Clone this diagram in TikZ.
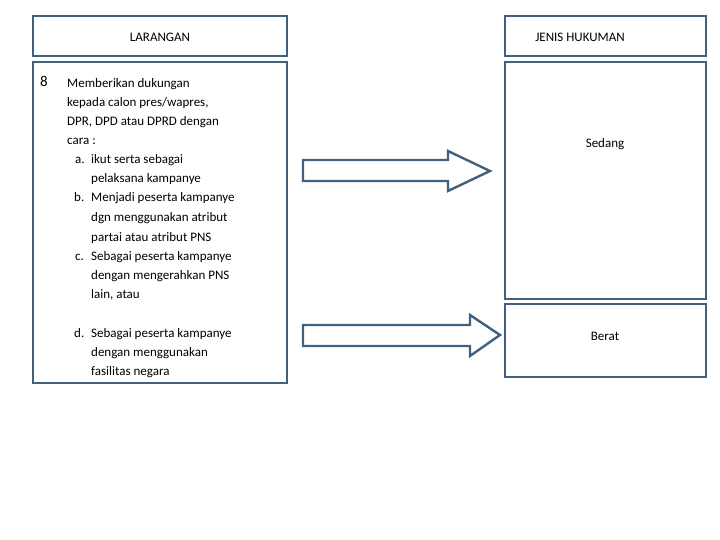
\documentclass[tikz,border=0pt]{standalone}
\usepackage{fontspec}
\setmainfont{Carlito}
\usetikzlibrary{arrows.meta}
\definecolor{frame}{HTML}{42607F}
\begin{document}
\begin{tikzpicture}[
	x          = 1pt,
	y          = -1pt,
	box/.style = {draw=frame, line width=2.4pt},
	txt/.style = {anchor=base west, inner sep=0pt, font=\fontsize{13}{15}\selectfont},
	blk/.style = {draw=frame, line width=2.4pt, fill=white, line join=miter}]
  \useasboundingbox (0,0) rectangle (720,540);
  \draw [box] (33,16) rectangle (287,56);
  \draw [box] (33,62) rectangle (287,383);
  \draw [box] (505,16) rectangle (706,56);
  \draw [box] (505,62) rectangle (706,299);
  \draw [box] (505,304) rectangle (706,377);
  \node [txt, anchor=base] (lar) at (160,42) {LARANGAN};
  \node [txt, anchor=base] (jen) at (580,42) {JENIS HUKUMAN};
  \node [txt, anchor=base] (sed) at (605,148) {Sedang};
  \node [txt, anchor=base] (ber) at (605,340) {Berat};
  \node [txt] (num) at (40,87) {\fontsize{15}{17}\selectfont 8};
  \foreach \px/\py/\t in {67/88/Memberikan dukungan, 67/107/{kepada calon pres/wapres,},
      67/126/{DPR, DPD atau DPRD dengan}, 67/145/cara :,
      75/164/a., 91/164/ikut serta sebagai, 91/183/pelaksana kampanye,
      74/202/b., 91/202/Menjadi peserta kampanye, 91/222/dgn menggunakan atribut,
      91/241/partai atau atribut PNS, 75/260/c., 91/260/Sebagai peserta kampanye,
      91/279/dengan mengerahkan PNS, 91/298/{lain, atau},
      74/337/d., 91/337/Sebagai peserta kampanye, 91/356/dengan menggunakan,
      91/375/fasilitas negara}
    \node [txt] at (\px,\py) {\t};
  \draw [blk] (303,160) -- (448,160) -- (448,151) -- (490,171) -- (448,191)
    -- (448,181) -- (303,181) -- cycle;
  \draw [blk] (303,325) -- (470,325) -- (470,315) -- (500,335) -- (470,356)
    -- (470,346) -- (303,346) -- cycle;
\end{tikzpicture}
\end{document}
